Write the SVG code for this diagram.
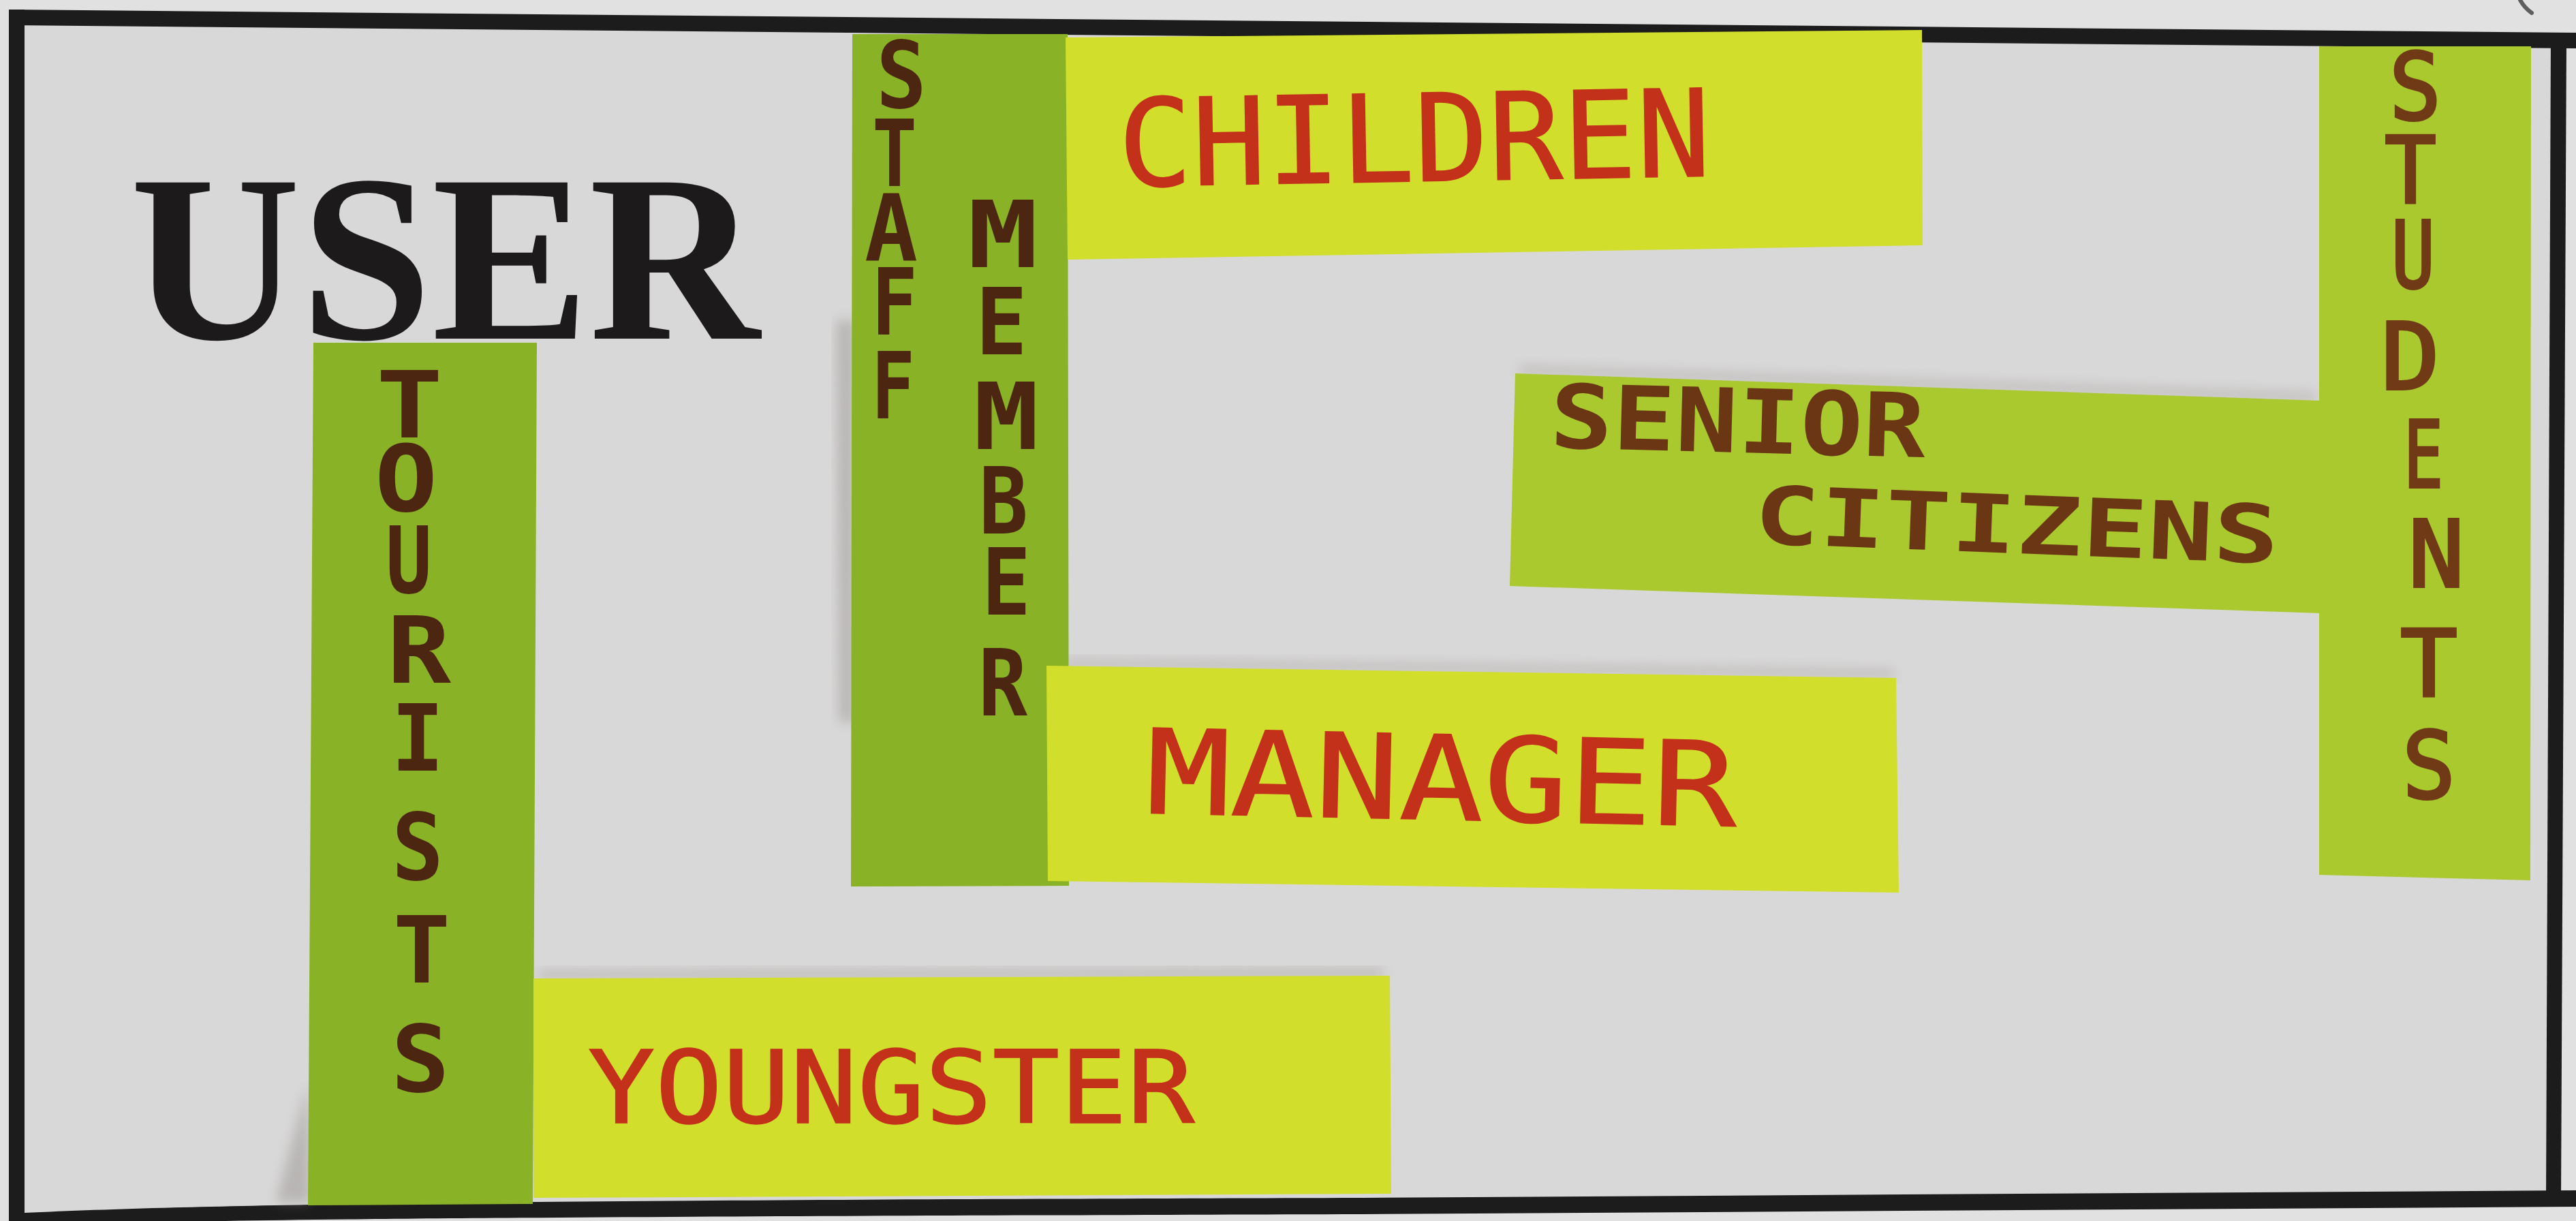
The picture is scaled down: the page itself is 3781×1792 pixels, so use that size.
<svg xmlns="http://www.w3.org/2000/svg" width="3781" height="1792" viewBox="0 0 3781 1792">
  <defs>
    <style>
      .paper { fill: #d9d8d8; }
      .rule { fill: #1d1c1c; }
      .green-dark { fill: #89b227; }
      .green-light { fill: #a9c92e; }
      .yellow { fill: #d1de2b; }
      .shade { fill: #8f8a86; opacity: 0.45; filter: url(#soft); }
      .title { font-family: "Liberation Serif", "Times New Roman", serif; font-weight: bold; font-size: 350px; fill: #1c1a1a; }
      .hand { font-family: "DejaVu Sans Mono", "Liberation Mono", monospace; text-anchor: middle; }
      .brown { font-weight: bold; fill: #4c2610; font-size: 135px; }
      .brown-thin { fill: #6f3a15; stroke: #6f3a15; stroke-width: 4px; font-size: 135px; }
      .senior { font-weight: bold; fill: #6a3614; }
      .red { fill: #c3311b; stroke: #c3311b; stroke-width: 1.5px; }
    </style>
    <filter id="soft" x="-30%" y="-30%" width="160%" height="160%">
      <feGaussianBlur stdDeviation="9"/>
    </filter>
  </defs>

  <!-- background sheet and framed area -->
  <rect x="0" y="0" width="3781" height="1792" fill="#e2e1e1"/>
  <polygon class="paper" points="36,38 3744,70 3737,1749 36,1780"/>

  <!-- black frame -->
  <g id="frame">
    <polygon class="rule" points="13,14 3781,48 3781,71 13,37"/>
    <path class="rule" d="M13,1781 C300,1768 600,1762 2000,1758 L3781,1747 L3781,1771 L2000,1782 C600,1786 300,1790 13,1800 Z"/>
    <rect class="rule" x="13" y="14" width="23" height="1786"/>
    <polygon class="rule" points="3744,60 3767,60 3759,1760 3737,1760"/>
    <path d="M3699,0 Q3705,11 3716,19" fill="none" stroke="#5e5e5e" stroke-width="6" stroke-linecap="round"/>
  </g>

  <!-- heading -->
  <g id="title">
    <text class="title" x="191" y="497" textLength="924" lengthAdjust="spacingAndGlyphs">USER</text>
  </g>

  <!-- soft shadows cast by the sticky notes -->
  <g id="shadows">
    <polygon class="shade" points="1228,470 1254,470 1254,1060 1232,1060"/>
    <polygon class="shade" points="452,1590 456,1765 405,1765"/>
    <polygon class="shade" points="1560,968 2780,984 2780,994 1560,978"/>
    <polygon class="shade" points="790,1425 2030,1422 2030,1434 790,1436"/>
    <polygon class="shade" points="2230,538 3400,578 3400,588 2230,548"/>
  </g>

  <g id="note-tourists">
    <polygon class="green-dark" points="460,503 788,503 782,1767 452,1769"/>
    <g class="hand brown">
      <text x="601" y="642" textLength="98" lengthAdjust="spacingAndGlyphs">T</text>
      <text x="596" y="750" textLength="92" lengthAdjust="spacingAndGlyphs">O</text>
      <text x="600" y="870" textLength="68" lengthAdjust="spacingAndGlyphs">U</text>
      <text x="615" y="1002" textLength="94" lengthAdjust="spacingAndGlyphs">R</text>
      <text x="613" y="1131" textLength="78" lengthAdjust="spacingAndGlyphs">I</text>
      <text x="613" y="1291" textLength="76" lengthAdjust="spacingAndGlyphs">S</text>
      <text x="619" y="1442" textLength="84" lengthAdjust="spacingAndGlyphs">T</text>
      <text x="617" y="1602" textLength="86" lengthAdjust="spacingAndGlyphs">S</text>
    </g>
  </g>

  <g id="note-youngster">
    <polygon class="yellow" points="783,1436 2040,1432 2042,1752 783,1758"/>
    <text class="hand red" x="1308" y="1648" font-size="148" textLength="891" lengthAdjust="spacingAndGlyphs">YOUNGSTER</text>
  </g>

  <g id="note-staff-member">
    <polygon class="green-dark" points="1251,50 1567,50 1569,1300 1249,1301"/>
    <g class="hand brown">
      <text x="1323" y="158" textLength="74" lengthAdjust="spacingAndGlyphs">S</text>
      <text x="1313" y="273" textLength="66" lengthAdjust="spacingAndGlyphs">T</text>
      <text x="1308" y="382" textLength="78" lengthAdjust="spacingAndGlyphs">A</text>
      <text x="1313" y="491" textLength="68" lengthAdjust="spacingAndGlyphs">F</text>
      <text x="1311" y="614" textLength="64" lengthAdjust="spacingAndGlyphs">F</text>
      <text x="1472" y="392" textLength="104" lengthAdjust="spacingAndGlyphs">M</text>
      <text x="1470" y="520" textLength="76" lengthAdjust="spacingAndGlyphs">E</text>
      <text x="1477" y="659" textLength="96" lengthAdjust="spacingAndGlyphs">M</text>
      <text x="1473" y="783" textLength="72" lengthAdjust="spacingAndGlyphs">B</text>
      <text x="1477" y="902" textLength="72" lengthAdjust="spacingAndGlyphs">E</text>
      <text x="1472" y="1050" textLength="72" lengthAdjust="spacingAndGlyphs">R</text>
    </g>
  </g>

  <g id="note-children">
    <polygon class="yellow" points="1564,55 2821,44 2822,360 1567,381"/>
    <text class="hand red" x="2076" y="266" font-size="178" textLength="870" lengthAdjust="spacingAndGlyphs" transform="rotate(-1 2076 205)">CHILDREN</text>
  </g>

  <g id="note-manager">
    <polygon class="yellow" points="1536,977 2783,995 2787,1310 1538,1293"/>
    <text class="hand red" x="2116" y="1203" font-size="172" textLength="867" lengthAdjust="spacingAndGlyphs" transform="rotate(1.3 2116 1140)">MANAGER</text>
  </g>

  <g id="note-senior-citizens">
    <polygon class="green-light" points="2224,548 3406,588 3406,900 2216,860"/>
    <g class="hand senior">
      <text x="2551" y="664" font-size="130" textLength="551" lengthAdjust="spacingAndGlyphs" transform="rotate(1.5 2551 615)">SENIOR</text>
      <text x="2960" y="812" font-size="118" textLength="771" lengthAdjust="spacingAndGlyphs" transform="rotate(2.2 2960 770)">CITIZENS</text>
    </g>
  </g>

  <g id="note-students">
    <polygon class="green-light" points="3404,68 3715,68 3714,1292 3404,1284"/>
    <g class="hand brown-thin">
      <text x="3545" y="175" textLength="76" lengthAdjust="spacingAndGlyphs">S</text>
      <text x="3538" y="298" textLength="76" lengthAdjust="spacingAndGlyphs">T</text>
      <text x="3542" y="422" textLength="64" lengthAdjust="spacingAndGlyphs">U</text>
      <text x="3538" y="571" textLength="86" lengthAdjust="spacingAndGlyphs">D</text>
      <text x="3557" y="715" textLength="58" lengthAdjust="spacingAndGlyphs">E</text>
      <text x="3576" y="861" textLength="82" lengthAdjust="spacingAndGlyphs">N</text>
      <text x="3565" y="1022" textLength="84" lengthAdjust="spacingAndGlyphs">T</text>
      <text x="3565" y="1171" textLength="78" lengthAdjust="spacingAndGlyphs">S</text>
    </g>
  </g>
</svg>
